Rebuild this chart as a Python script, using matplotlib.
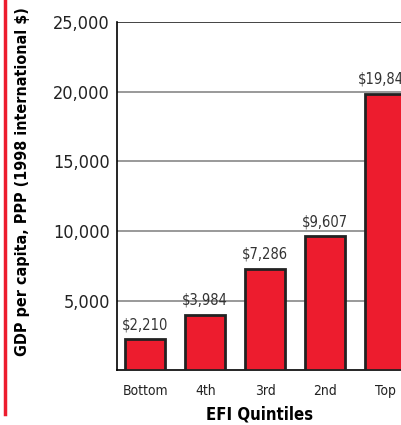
import matplotlib
matplotlib.use("Agg")
import matplotlib.pyplot as plt

quintiles = ["Bottom", "4th", "3rd", "2nd", "Top"]
gdp_values = [2210, 3984, 7286, 9607, 19846]
y_ticks = [5000, 10000, 15000, 20000, 25000]

RED = "#ED1C2E"
plt.rcParams["font.family"] = ["DejaVu Sans"]
plt.rcParams["font.stretch"] = "condensed"

fig = plt.figure(figsize=(4.02, 4.25), dpi=100)
ax = fig.add_axes([0.291, 0.129, 0.709, 0.819])

x = range(len(quintiles))
ax.bar(x, gdp_values, width=0.67, color=RED, edgecolor="#222222", linewidth=2, zorder=3)

for xi, v in zip(x, gdp_values):
    ax.annotate(f"${v:,}", (xi, v), xytext=(0, 5), textcoords="offset points",
                ha="center", va="bottom", fontsize=10.5, color="#333333")

ax.set_xlim(-0.47, 4.28)
ax.set_ylim(0, 25000)
ax.set_yticks(y_ticks)
ax.set_yticklabels([f"{t:,}" for t in y_ticks], fontsize=13, color="#222222")
ax.set_xticks(list(x))
ax.set_xticklabels(quintiles, fontsize=10, color="#222222")
ax.tick_params(axis="x", length=0, pad=10)
ax.tick_params(axis="y", length=0, pad=5)

for t in y_ticks[:-1]:
    ax.axhline(t, color="#888888", linewidth=1.2, zorder=1)
ax.axhline(25000, color="#222222", linewidth=1.2, zorder=1)

for s in ["top", "right"]:
    ax.spines[s].set_visible(False)
ax.spines["left"].set_linewidth(1.2)
ax.spines["bottom"].set_linewidth(1.2)

ax.set_xlabel("EFI Quintiles", fontsize=12, fontweight="bold", labelpad=5)
fig.text(0.055, 0.572, "GDP per capita, PPP (1998 international $)", rotation=90,
         ha="center", va="center", fontsize=11.5, fontweight="bold")

fig.add_artist(plt.Line2D([0.012, 0.012], [0.025, 1.0], color=RED, linewidth=2.5))

fig.savefig("out.png", dpi=100)
